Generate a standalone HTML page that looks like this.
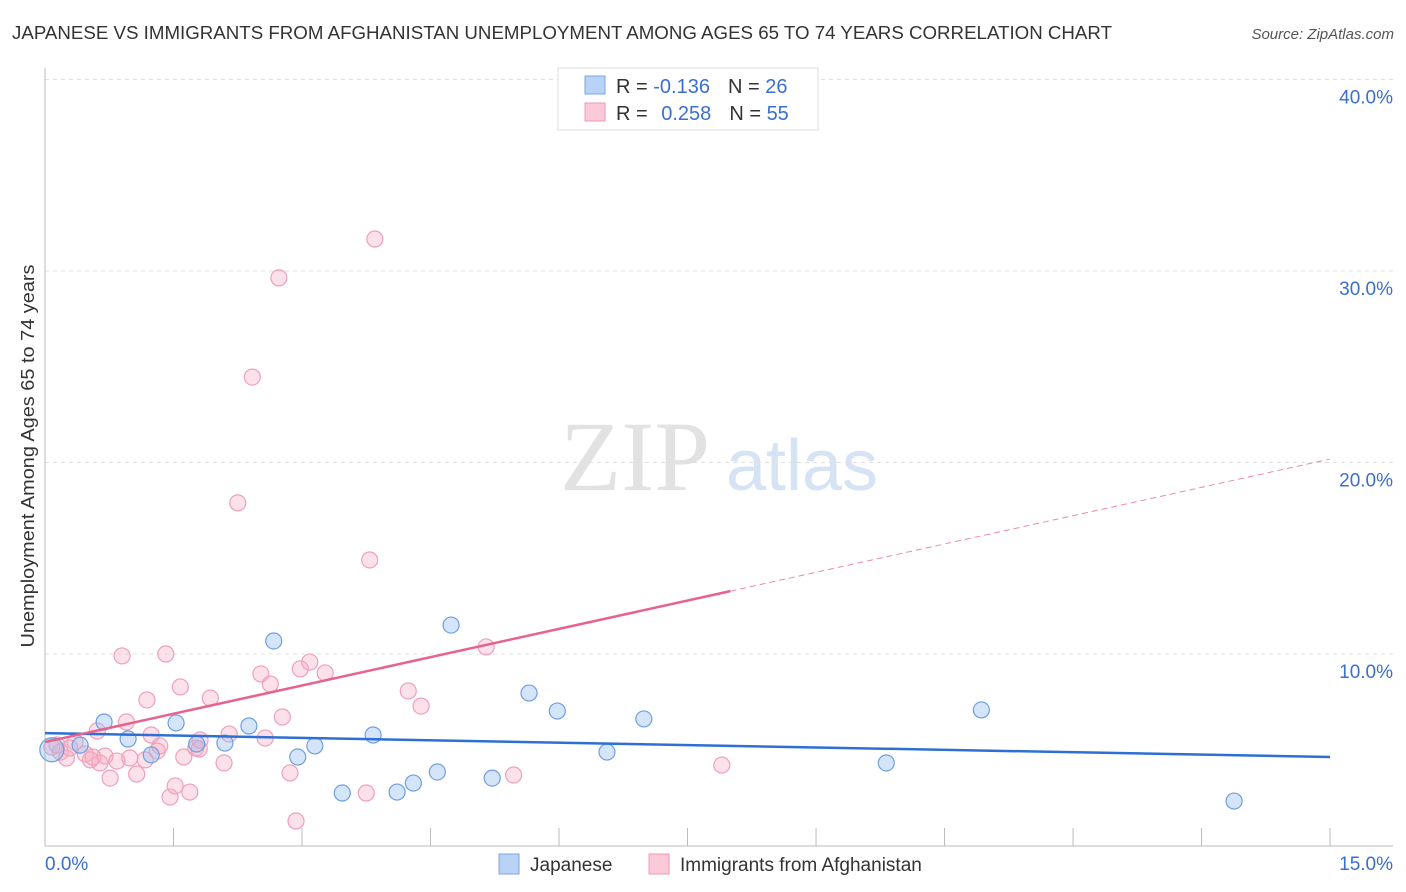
<!DOCTYPE html>
<html><head><meta charset="utf-8"><style>
body{margin:0;background:#fff;font-family:"Liberation Sans",sans-serif;}
svg{display:block}
</style></head><body>
<svg id="c" width="1406" height="892" xmlns="http://www.w3.org/2000/svg">
<text x="12" y="39" font-size="18" fill="#333" textLength="1100" lengthAdjust="spacingAndGlyphs">JAPANESE VS IMMIGRANTS FROM AFGHANISTAN UNEMPLOYMENT AMONG AGES 65 TO 74 YEARS CORRELATION CHART</text>
<text x="1394" y="39" font-size="15" fill="#555" font-style="italic" text-anchor="end">Source: ZipAtlas.com</text>
<text x="34" y="456" font-size="18" fill="#333" text-anchor="middle" textLength="383" lengthAdjust="spacingAndGlyphs" transform="rotate(-90 34 456)">Unemployment Among Ages 65 to 74 years</text>
<g>
<text x="635" y="490" font-size="100" fill="#e2e2e2" font-family="Liberation Serif,serif" text-anchor="middle">ZIP</text>
<text x="802" y="490" font-size="72" fill="#d5e3f4" text-anchor="middle">atlas</text>
</g>
<g id="grid"></g><g id="axes"></g><g id="marks"></g>
<g>
<rect x="558" y="68" width="260" height="62" fill="#fff" stroke="#ddd"/>
<rect x="585" y="76" width="20" height="18" fill="#b8d3f5" stroke="#7aa6e0"/>
<rect x="585" y="103" width="20" height="18" fill="#fcc9d8" stroke="#ee9ab2"/>
<text x="616" y="93" font-size="20" fill="#333">R = <tspan fill="#3a6fd1">-0.136</tspan><tspan dx="18">N = </tspan><tspan fill="#3a6fd1">26</tspan></text>
<text x="616" y="120" font-size="20" fill="#333">R = <tspan fill="#3a6fd1" dx="8">0.258</tspan><tspan dx="18">N = </tspan><tspan fill="#3a6fd1">55</tspan></text>
</g>
<g>
<rect x="499" y="854" width="20" height="20" fill="#b8d3f5" stroke="#7aa6e0"/>
<text x="530" y="871" font-size="19" fill="#333">Japanese</text>
<rect x="649" y="854" width="20" height="20" fill="#fcc9d8" stroke="#ee9ab2"/>
<text x="680" y="871" font-size="19" fill="#333">Immigrants from Afghanistan</text>
</g>
</svg>
<script>
const yTicks=[10,20,30,40];
const yTickLabels=["10.0%","20.0%","30.0%","40.0%"];
const xTicks=[0,1.5,3,4.5,6,7.5,9,10.5,12,13.5,15];
const japX=[0.08,0.41,0.69,0.97,1.24,1.53,1.77,2.10,2.38,2.67,2.95,3.15,3.47,3.83,4.11,4.30,4.58,4.74,5.22,5.65,5.98,6.56,6.99,9.82,10.93,13.88];
const japY=[5.0,5.24,6.45,5.56,4.73,6.40,5.30,5.35,6.24,10.68,4.62,5.2,2.74,5.77,2.79,3.26,3.84,11.51,3.52,7.96,7.02,4.88,6.61,4.31,7.08,2.32];
const afgX=[0.08,0.18,0.25,0.35,0.47,0.53,0.61,0.64,0.70,0.76,0.84,0.90,0.95,0.99,1.07,1.19,1.24,1.31,1.34,1.41,1.46,1.52,1.58,1.62,1.69,1.76,1.80,1.93,2.09,2.15,2.25,2.42,2.57,2.52,2.63,2.73,2.77,2.86,2.93,2.98,3.09,3.27,3.75,3.79,3.85,4.24,4.39,5.15,5.47,7.90,0.14,0.29,0.56,1.17,1.81];
const afgY=[5.14,4.88,4.57,5.40,4.78,4.47,5.98,4.31,4.67,3.52,4.41,9.90,6.45,4.57,3.73,7.60,5.77,4.93,5.20,10.0,2.53,3.11,8.28,4.62,2.79,5.09,5.04,7.70,4.31,5.82,17.89,24.46,5.61,8.96,8.43,29.64,6.71,3.79,1.28,9.22,9.58,9.01,2.74,14.91,31.67,8.07,7.28,10.37,3.68,4.20,5.25,5.09,4.62,4.47,5.51];
const japTrend=[5.87,4.62];
const afgTrend=[5.4,20.18];
const afgSolidEnd=8.0;
const X=v=>45+v*85.67, Y=v=>845.5-v*19.15;
const NS="http://www.w3.org/2000/svg";
function mk(p,t,a){const e=document.createElementNS(NS,t);for(const k in a)e.setAttribute(k,a[k]);p.appendChild(e);return e;}
const grid=document.getElementById('grid'),axes=document.getElementById('axes'),marks=document.getElementById('marks');
yTicks.forEach((v,i)=>{
 const l=mk(grid,'line',{x1:45,x2:1393,y1:Y(v),y2:Y(v),stroke:'#e0e0e0','stroke-dasharray':'4,4'});
 
 
 const t=mk(axes,'text',{x:1393,y:Y(v)+24,'font-size':19,fill:'#3a6fd1','text-anchor':'end'});t.textContent=yTickLabels[i];
 
 
});
mk(axes,'line',{x1:45,x2:45,y1:68,y2:846,stroke:'#bbb'});
mk(axes,'line',{x1:45,x2:1393,y1:846,y2:846,stroke:'#bbb'});
xTicks.forEach(v=>{const l=mk(axes,'line',{x1:X(v),x2:X(v),y1:828,y2:846,stroke:'#bbb'});
 
 });
let t0=mk(axes,'text',{x:45,y:870,'font-size':19,fill:'#3a6fd1'});t0.textContent='0.0%';


let t1=mk(axes,'text',{x:1393,y:870,'font-size':19,fill:'#3a6fd1','text-anchor':'end'});t1.textContent='15.0%';


afgX.forEach((x,i)=>{const c=mk(marks,'circle',{cx:X(x),cy:Y(afgY[i]),r:8,fill:'rgba(248,170,195,0.35)',stroke:'#eea0b8','stroke-width':1.2});
 
 });
japX.forEach((x,i)=>{const c=mk(marks,'circle',{cx:X(x),cy:Y(japY[i]),r:i==0?12:8,fill:'rgba(150,190,240,0.4)',stroke:'#6f9fe0','stroke-width':1.2});
 
 });
const aAt=x=>afgTrend[0]+(afgTrend[1]-afgTrend[0])*x/15;
let l1=mk(marks,'line',{x1:X(0),y1:Y(japTrend[0]),x2:X(15),y2:Y(japTrend[1]),stroke:'#2e6fd6','stroke-width':2.5});


let l2=mk(marks,'line',{x1:X(0),y1:Y(aAt(0)),x2:X(afgSolidEnd),y2:Y(aAt(afgSolidEnd)),stroke:'#e8628e','stroke-width':2.5});


let l3=mk(marks,'line',{x1:X(afgSolidEnd),y1:Y(aAt(afgSolidEnd)),x2:X(15),y2:Y(aAt(15)),stroke:'#eb8aaa','stroke-width':1,'stroke-dasharray':'6,4'});


</script>
</body></html>
